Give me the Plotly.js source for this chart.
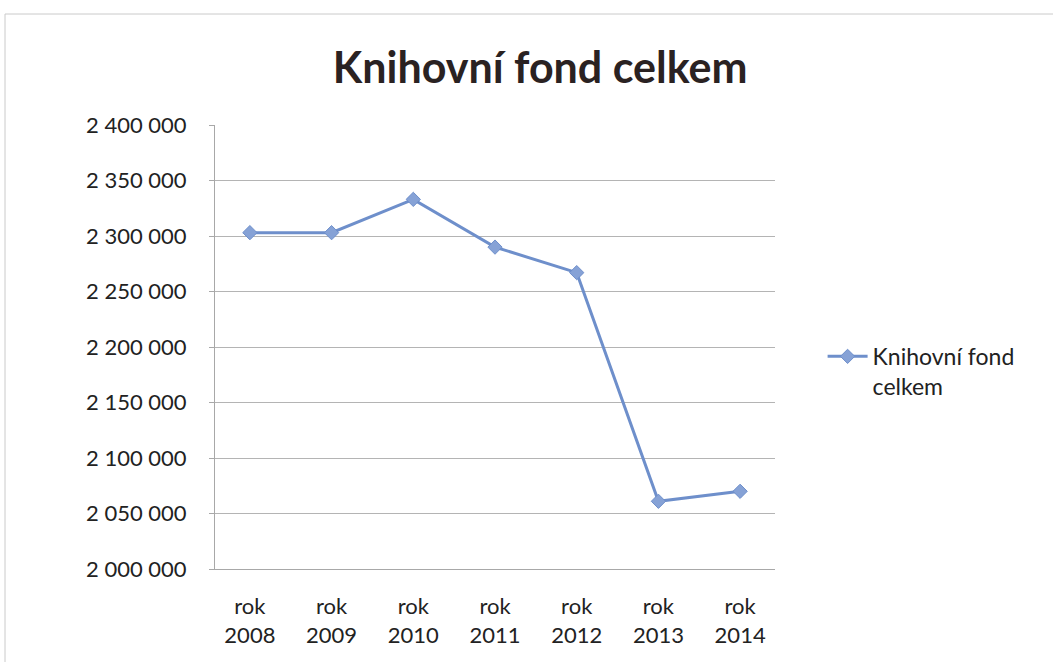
<!DOCTYPE html>
<html>
<head>
<meta charset="utf-8">
<script src="https://cdn.plot.ly/plotly-3.0.1.min.js"></script>
<style>
html,body{margin:0;padding:0;background:#fff;overflow:hidden;}
#chart{width:1053px;height:662px;}
</style>
</head>
<body>
<div id="chart"></div>
<script>
const categories = ["rok<br>2008","rok<br>2009","rok<br>2010","rok<br>2011","rok<br>2012","rok<br>2013","rok<br>2014"];
const values = [2303000, 2303000, 2333000, 2290000, 2267000, 2061000, 2070000];
const seriesName = "Knihovní fond<br>celkem";
const chartTitle = "Knihovní fond celkem";
const yTicks = [2000000, 2050000, 2100000, 2150000, 2200000, 2250000, 2300000, 2350000, 2400000];

const font = "Lato, 'Open Sans', sans-serif";
const trace = {
  x: categories,
  y: values,
  type: "scatter",
  mode: "lines+markers",
  name: seriesName,
  line: {color: "#6e8fcb", width: 3},
  marker: {symbol: "diamond", size: 11, color: "#86a2d6", line: {color: "#6e8fcb", width: 1}}
};
const frameColor = "#cacaca";
const layout = {
  width: 1053, height: 662,
  paper_bgcolor: "#fff", plot_bgcolor: "#fff",
  margin: {l: 215, r: 278, t: 125, b: 93},
  separators: ", ",
  font: {family: font, color: "#222", size: 22},
  title: {text: "<b>" + chartTitle + "</b>", font: {family: font, size: 43, color: "#2a2222"}, x: 0.513, xanchor: "center", y: 0.897, yanchor: "middle"},
  showlegend: true,
  legend: {x: 1.085, y: 0.445, xanchor: "left", yanchor: "middle", valign: "top", font: {size: 23, family: font, color: "#222"}, bgcolor: "rgba(0,0,0,0)", itemwidth: 40},
  xaxis: {type: "category", showgrid: false, showline: true, linecolor: "#a8a8a8", linewidth: 1, ticks: "", tickfont: {size: 22, family: font, color: "#222"}, ticklabelstandoff: 18, zeroline: false},
  yaxis: {range: [2000000, 2400000], tickvals: yTicks, tickformat: ",d", showgrid: true, gridcolor: "#b4b4b4", gridwidth: 1, showline: true, linecolor: "#a8a8a8", linewidth: 1, ticks: "outside", ticklen: 5, tickcolor: "#a8a8a8", tickfont: {size: 22, family: font, color: "#222"}, ticklabelstandoff: 18, zeroline: false},
  shapes: [
    {type: "line", xref: "paper", yref: "paper", x0: -0.375, x1: 1.5, y0: 1.25, y1: 1.25, line: {color: frameColor, width: 1}},
    {type: "line", xref: "paper", yref: "paper", x0: -0.375, x1: -0.375, y0: 1.25, y1: -0.21, line: {color: frameColor, width: 1}}
  ]
};
Plotly.newPlot("chart", [trace], layout, {displayModeBar: false, staticPlot: true});
</script>
</body>
</html>
